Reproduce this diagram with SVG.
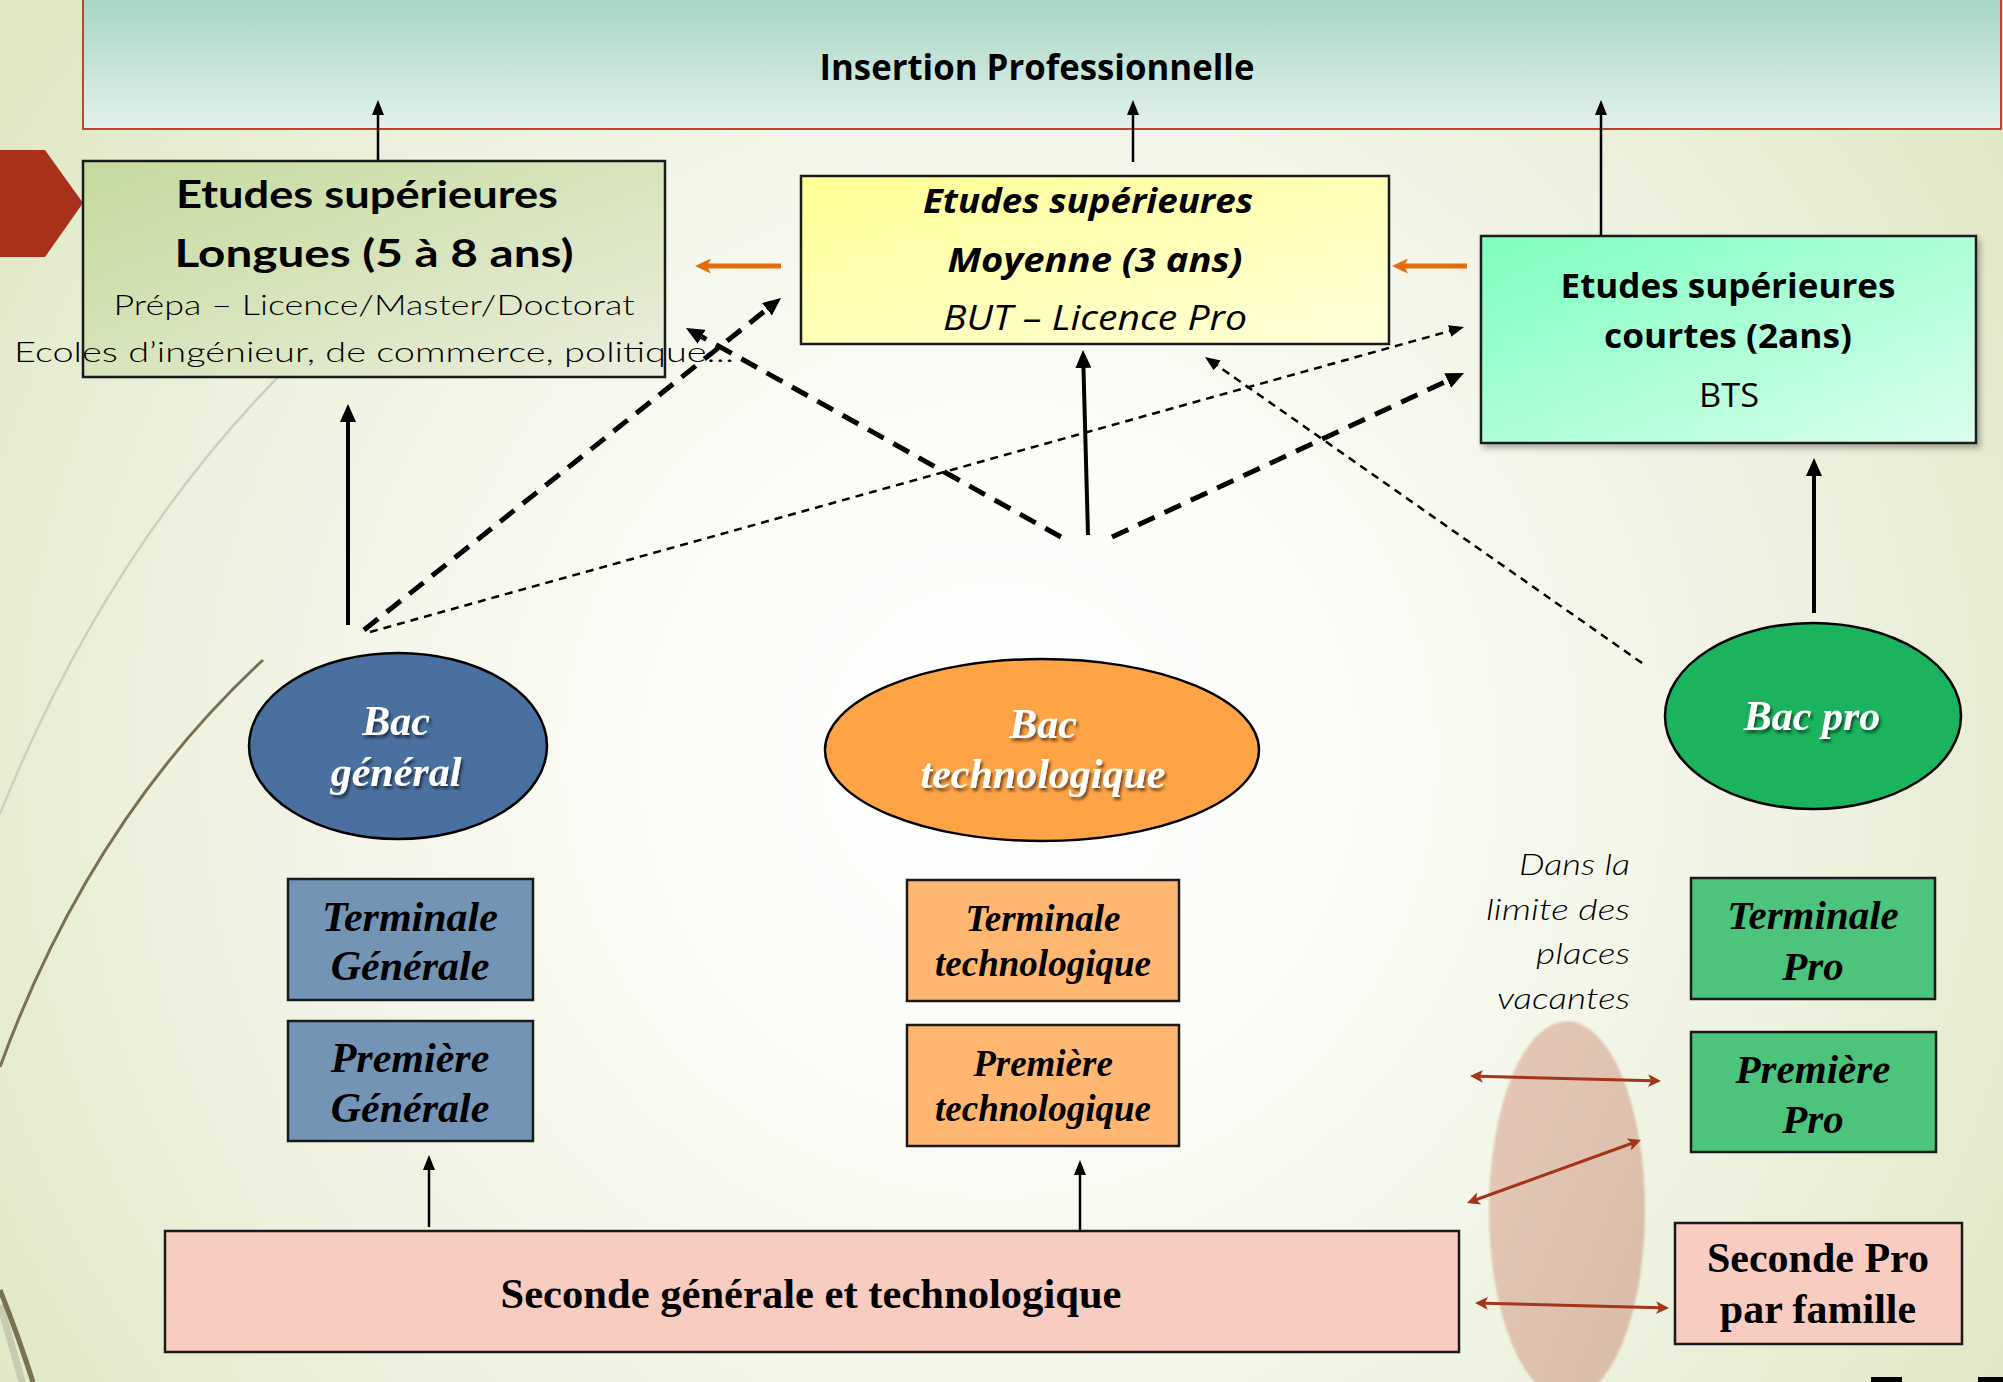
<svg xmlns="http://www.w3.org/2000/svg" width="2003" height="1382" viewBox="0 0 2003 1382">
<defs>
<style>
.box{stroke:#1a1a1a;stroke-width:2.5}
.tb{font-family:"Liberation Serif","Times New Roman",serif;font-weight:bold;font-style:italic;fill:#000;text-anchor:middle}
.tw{font-family:"Liberation Serif","Times New Roman",serif;font-weight:bold;font-style:italic;fill:#fff;text-anchor:middle;font-size:42px}
.sb{font-family:"Liberation Serif","Times New Roman",serif;font-weight:bold;fill:#000;text-anchor:middle}
.os{font-family:"Open Sans","Liberation Sans",sans-serif;fill:#000;text-anchor:middle}
.gt{font-family:Lato,"Liberation Sans",sans-serif;fill:#000;text-anchor:middle}
.solid{stroke:#000;fill:none}
.thickdash{stroke:#000;stroke-width:5;stroke-dasharray:18 11;fill:none}
.finedash{stroke:#000;stroke-width:2.5;stroke-dasharray:8 6;fill:none}
.orange{stroke:#E46C0A;stroke-width:5;fill:none}
.red{stroke:#A3351A;stroke-width:3;fill:none}
</style>
<radialGradient id="bg" cx="1000" cy="760" r="1200" gradientUnits="userSpaceOnUse">
<stop offset="0" stop-color="#FFFFFF"/>
<stop offset="0.3" stop-color="#FBFCF7"/>
<stop offset="0.7" stop-color="#EDF1DE"/>
<stop offset="1" stop-color="#E0E8C5"/>
</radialGradient>
<linearGradient id="gTop" x1="0" y1="0" x2="0" y2="1">
<stop offset="0" stop-color="#A6D6C4"/>
<stop offset="1" stop-color="#E3F1EB"/>
</linearGradient>
<linearGradient id="gLong" x1="0" y1="0" x2="1" y2="1">
<stop offset="0" stop-color="#C4DA9C"/>
<stop offset="1" stop-color="#EBEEDD"/>
</linearGradient>
<linearGradient id="gMoy" x1="0" y1="0" x2="1" y2="1">
<stop offset="0" stop-color="#FFFF94"/>
<stop offset="1" stop-color="#FFFFDA"/>
</linearGradient>
<linearGradient id="gCourt" x1="0" y1="0" x2="1" y2="1">
<stop offset="0" stop-color="#7DFFBE"/>
<stop offset="1" stop-color="#DAFFEE"/>
</linearGradient>
<linearGradient id="gPink" x1="0" y1="0" x2="1" y2="1">
<stop offset="0" stop-color="#E6C8B9"/>
<stop offset="1" stop-color="#D8BCA6"/>
</linearGradient>
<filter id="ts" x="-10%" y="-30%" width="130%" height="170%">
<feDropShadow dx="2" dy="3" stdDeviation="1.5" flood-color="#000" flood-opacity="0.55"/>
</filter>
<filter id="bs" x="-5%" y="-5%" width="115%" height="120%">
<feDropShadow dx="3" dy="4" stdDeviation="3" flood-color="#000" flood-opacity="0.3"/>
</filter>
<filter id="soft" x="-20%" y="-10%" width="140%" height="120%">
<feGaussianBlur stdDeviation="0.8"/>
</filter>
<marker id="ahs" viewBox="0 0 10 10" preserveAspectRatio="none" refX="3.3" refY="5" markerWidth="15" markerHeight="12" markerUnits="userSpaceOnUse" orient="auto"><path d="M0,0 L10,5 L0,10 z" fill="#000"/></marker>
<marker id="ahm" viewBox="0 0 10 10" preserveAspectRatio="none" refX="3.3" refY="5" markerWidth="18" markerHeight="16" markerUnits="userSpaceOnUse" orient="auto"><path d="M0,0 L10,5 L0,10 z" fill="#000"/></marker>
<marker id="aho" viewBox="0 0 10 10" preserveAspectRatio="none" refX="3.3" refY="5" markerWidth="16" markerHeight="15" markerUnits="userSpaceOnUse" orient="auto"><path d="M0,0 L10,5 L0,10 L2.5,5 z" fill="#E46C0A"/></marker>
<marker id="ahr" viewBox="0 0 10 10" preserveAspectRatio="none" refX="3.3" refY="5" markerWidth="13" markerHeight="13" markerUnits="userSpaceOnUse" orient="auto-start-reverse"><path d="M0,0 L10,5 L0,10 L2.5,5 z" fill="#A3351A"/></marker>
</defs>

<rect x="0" y="0" width="2003" height="1382" fill="url(#bg)"/>

<g id="decor">
<path d="M300 355 Q110 540 0 814" fill="none" stroke="#CDD1BC" stroke-width="2.5"/>
<path d="M263 660 Q90 820 0 1067" fill="none" stroke="#7B7052" stroke-width="3"/>
<path d="M0 1305 Q12 1345 22 1382" fill="none" stroke="#C9CAB2" stroke-width="7"/>
<path d="M0 1290 Q18 1335 33 1382" fill="none" stroke="#7B7052" stroke-width="5"/>
<polygon points="0,150 45,150 83,203 45,257 0,257" fill="#A9301A"/>
<rect x="1871" y="1377" width="31" height="5" fill="#000"/>
<rect x="1978" y="1377" width="25" height="5" fill="#000"/>
</g>

<g id="insertion">
<rect x="83" y="-2" width="1918" height="131" fill="url(#gTop)" stroke="#C0442A" stroke-width="2"/>
<text class="os" x="1037" y="80" font-size="36" font-weight="bold" textLength="435" lengthAdjust="spacingAndGlyphs">Insertion Professionnelle</text>
</g>

<g id="etudes-longues">
<rect class="box" x="83" y="161" width="582" height="216" fill="url(#gLong)"/>
<text class="gt" x="367" y="208" font-size="38" font-weight="bold" textLength="382" lengthAdjust="spacingAndGlyphs">Etudes supérieures</text>
<text class="gt" x="374" y="267" font-size="38" font-weight="bold" textLength="399" lengthAdjust="spacingAndGlyphs">Longues (5 à 8 ans)</text>
<text class="gt" x="374" y="315" font-size="28" font-weight="300" textLength="521" lengthAdjust="spacingAndGlyphs">Prépa – Licence/Master/Doctorat</text>
<text class="gt" x="14" y="362" font-size="28" font-weight="300" style="text-anchor:start" textLength="720" lengthAdjust="spacingAndGlyphs">Ecoles d’ingénieur, de commerce, politique…</text>
</g>

<g id="etudes-moyennes">
<rect class="box" x="801" y="176" width="588" height="168" fill="url(#gMoy)"/>
<text class="os" x="1088" y="213" font-size="34" font-weight="bold" font-style="italic" textLength="330" lengthAdjust="spacingAndGlyphs">Etudes supérieures</text>
<text class="os" x="1095" y="272" font-size="34" font-weight="bold" font-style="italic" textLength="295" lengthAdjust="spacingAndGlyphs">Moyenne (3 ans)</text>
<text class="os" x="1095" y="330" font-size="34" font-style="italic" textLength="304" lengthAdjust="spacingAndGlyphs">BUT – Licence Pro</text>
</g>

<g id="etudes-courtes">
<rect class="box" x="1481" y="236" width="495" height="207" fill="url(#gCourt)" filter="url(#bs)"/>
<text class="os" x="1728" y="298" font-size="34" font-weight="bold" textLength="335" lengthAdjust="spacingAndGlyphs">Etudes supérieures</text>
<text class="os" x="1728" y="348" font-size="34" font-weight="bold" textLength="248" lengthAdjust="spacingAndGlyphs">courtes (2ans)</text>
<text class="os" x="1729" y="407" font-size="33" textLength="60" lengthAdjust="spacingAndGlyphs">BTS</text>
</g>

<g id="bac-general">
<ellipse cx="398" cy="746" rx="149" ry="93" fill="#4A70A0" stroke="#000" stroke-width="2.5"/>
<text class="tw" x="396" y="735" filter="url(#ts)">Bac</text>
<text class="tw" x="396" y="786" filter="url(#ts)">général</text>
</g>

<g id="bac-techno">
<ellipse cx="1042" cy="750" rx="217" ry="91" fill="#FFA347" stroke="#000" stroke-width="2.5"/>
<text class="tw" x="1043" y="738" filter="url(#ts)">Bac</text>
<text class="tw" x="1043" y="788" filter="url(#ts)">technologique</text>
</g>

<g id="bac-pro">
<ellipse cx="1813" cy="716" rx="148" ry="93" fill="#1BB35D" stroke="#000" stroke-width="2.5"/>
<text class="tw" x="1812" y="730" filter="url(#ts)">Bac pro</text>
</g>

<g id="terminale-generale">
<rect class="box" x="288" y="879" width="245" height="121" fill="#7494B6"/>
<text class="tb" x="410" y="931" font-size="42">Terminale</text>
<text class="tb" x="410" y="980" font-size="42">Générale</text>
</g>

<g id="premiere-generale">
<rect class="box" x="288" y="1021" width="245" height="120" fill="#7494B6"/>
<text class="tb" x="410" y="1072" font-size="42">Première</text>
<text class="tb" x="410" y="1122" font-size="42">Générale</text>
</g>

<g id="terminale-techno">
<rect class="box" x="907" y="880" width="272" height="121" fill="#FFB671"/>
<text class="tb" x="1043" y="931" font-size="37">Terminale</text>
<text class="tb" x="1043" y="976" font-size="37">technologique</text>
</g>

<g id="premiere-techno">
<rect class="box" x="907" y="1025" width="272" height="121" fill="#FFB671"/>
<text class="tb" x="1043" y="1076" font-size="37">Première</text>
<text class="tb" x="1043" y="1121" font-size="37">technologique</text>
</g>

<g id="terminale-pro">
<rect class="box" x="1691" y="878" width="244" height="121" fill="#4DC47D"/>
<text class="tb" x="1813" y="929" font-size="41">Terminale</text>
<text class="tb" x="1813" y="980" font-size="41">Pro</text>
</g>

<g id="premiere-pro">
<rect class="box" x="1691" y="1032" width="245" height="120" fill="#4DC47D"/>
<text class="tb" x="1813" y="1083" font-size="41">Première</text>
<text class="tb" x="1813" y="1133" font-size="41">Pro</text>
</g>

<g id="limite-places">
<ellipse cx="1567" cy="1210" rx="78" ry="189" fill="url(#gPink)" filter="url(#soft)"/>
<text class="gt" x="1630" y="875" font-size="30" font-style="italic" font-weight="300" style="text-anchor:end" textLength="111" lengthAdjust="spacingAndGlyphs">Dans la</text>
<text class="gt" x="1630" y="920" font-size="30" font-style="italic" font-weight="300" style="text-anchor:end" textLength="144" lengthAdjust="spacingAndGlyphs">limite des</text>
<text class="gt" x="1630" y="964" font-size="30" font-style="italic" font-weight="300" style="text-anchor:end" textLength="94" lengthAdjust="spacingAndGlyphs">places</text>
<text class="gt" x="1630" y="1009" font-size="30" font-style="italic" font-weight="300" style="text-anchor:end" textLength="133" lengthAdjust="spacingAndGlyphs">vacantes</text>
</g>

<g id="seconde-gt">
<rect class="box" x="165" y="1231" width="1294" height="121" fill="#F8CCC0"/>
<text class="sb" x="811" y="1308" font-size="43" textLength="621" lengthAdjust="spacingAndGlyphs">Seconde générale et technologique</text>
</g>

<g id="seconde-pro">
<rect class="box" x="1675" y="1223" width="287" height="121" fill="#F8CCC0"/>
<text class="sb" x="1818" y="1272" font-size="42">Seconde Pro</text>
<text class="sb" x="1818" y="1323" font-size="42">par famille</text>
</g>

<g id="connectors">
<line class="solid" stroke-width="2.5" x1="378" y1="160" x2="378" y2="110" marker-end="url(#ahs)"/>
<line class="solid" stroke-width="2.5" x1="1133" y1="162" x2="1133" y2="110" marker-end="url(#ahs)"/>
<line class="solid" stroke-width="2.5" x1="1601" y1="236" x2="1601" y2="110" marker-end="url(#ahs)"/>
<line class="solid" stroke-width="4" x1="348" y1="625" x2="348" y2="416" marker-end="url(#ahm)"/>
<line class="solid" stroke-width="4" x1="1088" y1="535" x2="1083.3" y2="362" marker-end="url(#ahm)"/>
<line class="solid" stroke-width="4" x1="1814" y1="613" x2="1814" y2="470" marker-end="url(#ahm)"/>
<line class="solid" stroke-width="2.5" x1="429" y1="1227" x2="429" y2="1165" marker-end="url(#ahs)"/>
<line class="solid" stroke-width="2.5" x1="1080" y1="1232" x2="1080" y2="1170" marker-end="url(#ahs)"/>
<line class="thickdash" x1="364" y1="630" x2="771.6" y2="305.5" marker-end="url(#ahm)"/>
<line class="thickdash" x1="1061" y1="537" x2="696.5" y2="333.8" marker-end="url(#ahm)"/>
<line class="thickdash" x1="1112" y1="537" x2="1453.1" y2="378.1" marker-end="url(#ahm)"/>
<line class="finedash" x1="370" y1="632" x2="1454.4" y2="329.7" marker-end="url(#ahs)"/>
<line class="finedash" x1="1642" y1="663" x2="1213.2" y2="362.7" marker-end="url(#ahs)"/>
<line class="orange" x1="781" y1="266" x2="705.7" y2="266" marker-end="url(#aho)"/>
<line class="orange" x1="1467" y1="266" x2="1402.7" y2="266" marker-end="url(#aho)"/>
<line class="red" x1="1478.7" y1="1076.2" x2="1652.3" y2="1080.8" marker-start="url(#ahr)" marker-end="url(#ahr)"/>
<line class="red" x1="1475.2" y1="1200" x2="1632.8" y2="1143" marker-start="url(#ahr)" marker-end="url(#ahr)"/>
<line class="red" x1="1483.7" y1="1303.2" x2="1660.3" y2="1307.8" marker-start="url(#ahr)" marker-end="url(#ahr)"/>
</g>
</svg>
